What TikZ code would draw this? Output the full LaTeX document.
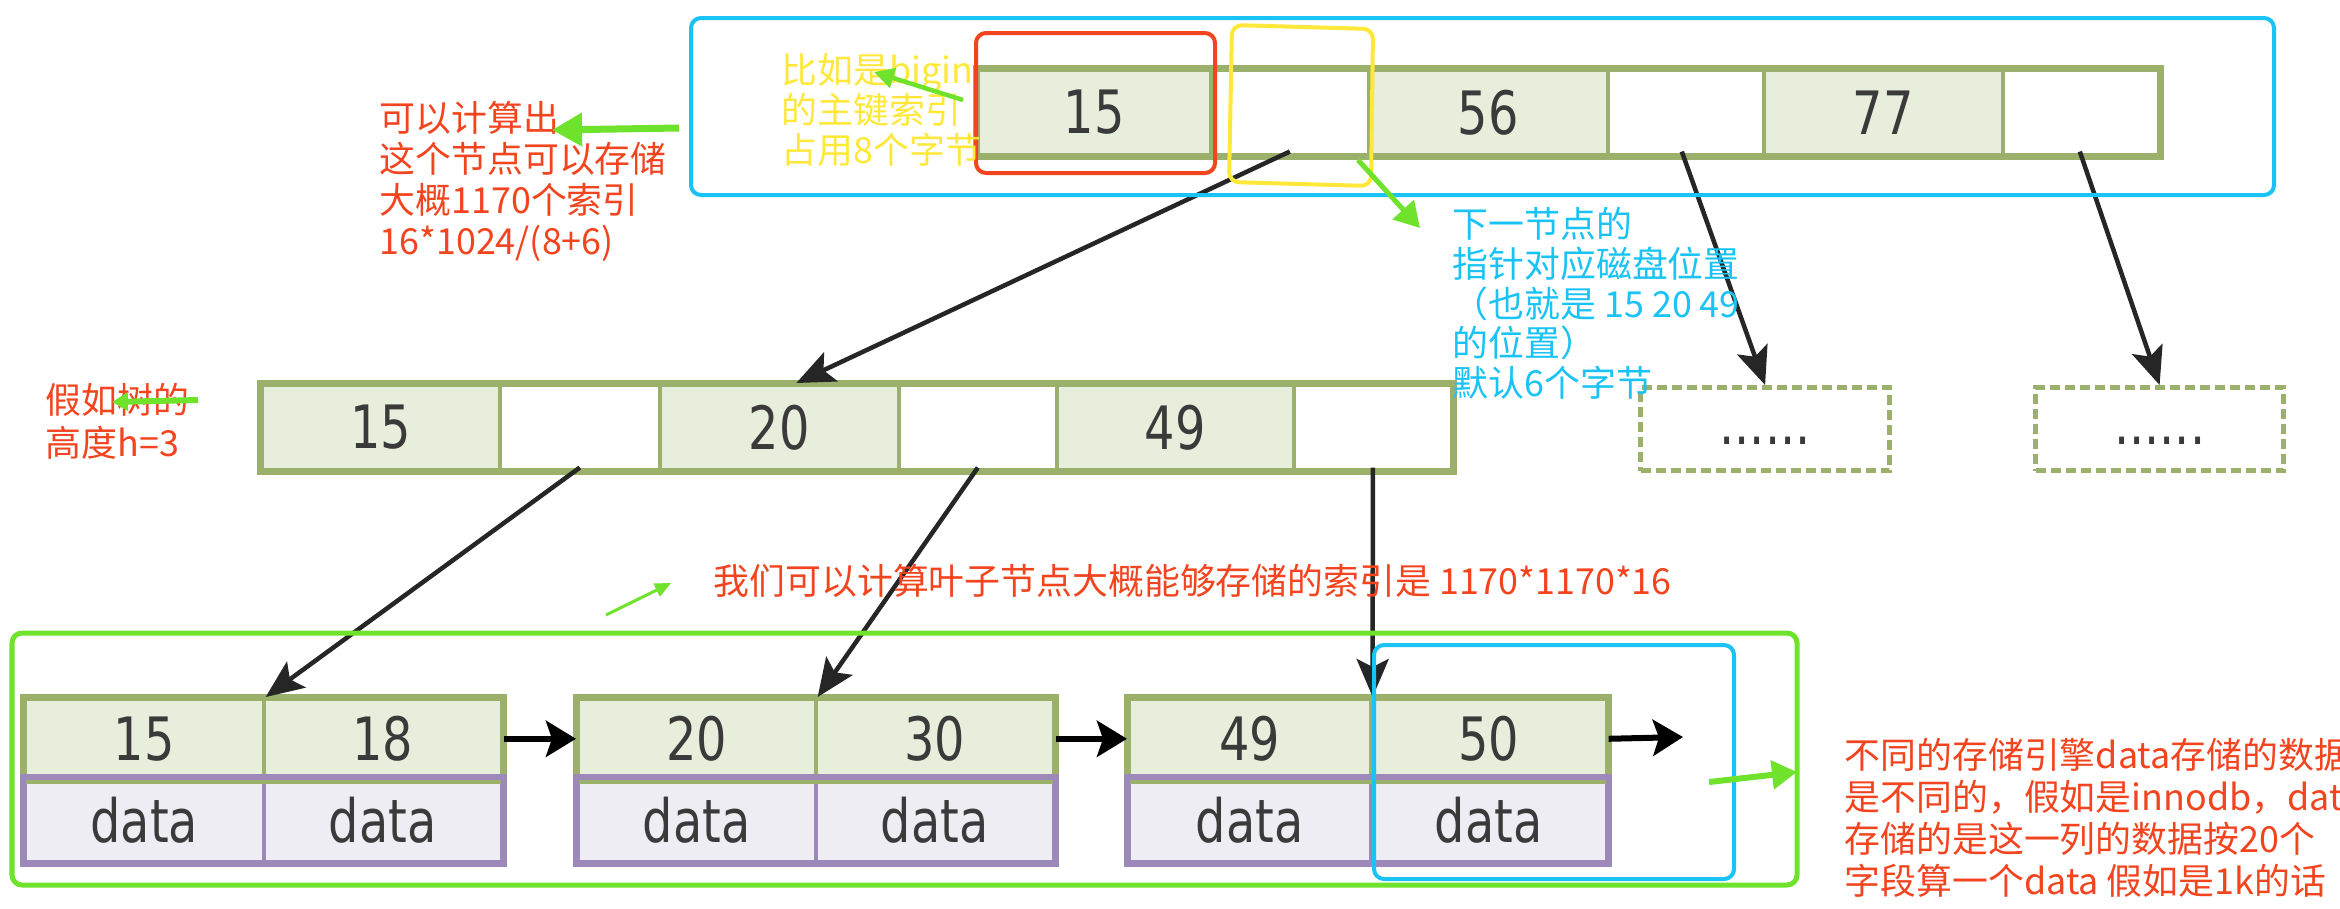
\documentclass[tikz,border=0pt]{standalone}
\usepackage{fontspec}
\usetikzlibrary{arrows.meta,calc}
\newfontfamily\cjk{Noto Sans CJK SC}
\newfontfamily\cellfont[FakeStretch=0.8]{DejaVu Sans}
\definecolor{keyfill}{HTML}{E7EEDB}
\definecolor{keyline}{HTML}{9BB06B}
\definecolor{datafill}{HTML}{EFEDF4}
\definecolor{dataline}{HTML}{9D89B9}
\definecolor{annred}{HTML}{F2441F}
\definecolor{annblue}{HTML}{19C3F5}
\definecolor{annyellow}{HTML}{FFE83A}
\definecolor{anngreen}{HTML}{6FE22C}
\definecolor{celltext}{HTML}{3A3A3A}
\tikzset{
  cell/.style={draw=keyline, line width=0.035cm, minimum height=0.85cm, inner sep=0pt,
    anchor=north west, font=\cellfont\fontsize{17pt}{20pt}\selectfont, text=celltext},
  keycell/.style={cell, fill=keyfill},
  ptrcell/.style={cell, fill=white},
  leafkey/.style={cell, fill=keyfill, minimum height=0.80cm},
  leafdata/.style={cell, draw=dataline, fill=datafill, minimum height=0.83cm},
  dotbox/.style={cell, fill=white, line width=0.05cm, dash pattern=on 0.1cm off 0.05cm,
    minimum height=0.83cm, text height=0.3cm, text depth=0pt},
  frameK/.style={draw=keyline, line width=0.07cm},
  frameD/.style={draw=dataline, line width=0.06cm},
  blackarrow/.style={draw=black!85, line width=0.045cm, -{Stealth[length=0.38cm,width=0.32cm,inset=0.08cm]}},
  linkarrow/.style={draw=black, line width=0.06cm, -{Stealth[length=0.3cm,width=0.36cm,inset=0.06cm]}},
  greenarrow/.style={draw=anngreen, -{Triangle[length=0.25cm,width=0.28cm]}},
  ann/.style={anchor=north west, inner sep=0pt, align=left},
  annbox/.style={rounded corners=0.1cm, line width=0.04cm},
}
\begin{document}
\begin{tikzpicture}[x=0.01cm, y=-0.01cm]
\useasboundingbox (0,0) rectangle (2340,908);
\clip (0,0) rectangle (2340,908);
\fill[white] (0,0) rectangle (2340,908);

% ---- root node
\node[keycell, minimum width=2.33cm] (t1) at (976,68) {15};
\node[ptrcell, minimum width=1.58cm] (t2) at (1209,68) {};
\node[keycell, minimum width=2.39cm] (t3) at (1367,68) {56};
\node[ptrcell, minimum width=1.56cm] (t4) at (1606,68) {};
\node[keycell, minimum width=2.39cm] (t5) at (1762,68) {77};
\node[ptrcell, minimum width=1.56cm] (t6) at (2001,68) {};
\draw[frameK] (t1.north west) rectangle (t6.south east);

% ---- middle node
\node[keycell, minimum width=2.38cm] (m1) at (260,383) {15};
\node[ptrcell, minimum width=1.60cm] (m2) at (498,383) {};
\node[keycell, minimum width=2.39cm] (m3) at (658,383) {20};
\node[ptrcell, minimum width=1.58cm] (m4) at (897,383) {};
\node[keycell, minimum width=2.37cm] (m5) at (1055,383) {49};
\node[ptrcell, minimum width=1.58cm] (m6) at (1292,383) {};
\draw[frameK] (m1.north west) rectangle (m6.south east);

% ---- dotted placeholder nodes
\node[dotbox, minimum width=2.49cm] (d1) at (1638,385) {......};
\node[dotbox, minimum width=2.48cm] (d2) at (2033,385) {......};

% ---- leaves
\node[leafkey, minimum width=2.39cm] (l1a) at (23,697) {15};
\node[leafkey, minimum width=2.38cm] (l1b) at (262,697) {18};
\node[leafdata, minimum width=2.39cm] (l1c) at (23,777) {data};
\node[leafdata, minimum width=2.38cm] (l1d) at (262,777) {data};
\draw[frameK, line width=0.06cm] (l1a.north west) rectangle (l1b.south east);
\draw[frameD] (l1c.north west) rectangle (l1d.south east);

\node[leafkey, minimum width=2.38cm] (l2a) at (576,697) {20};
\node[leafkey, minimum width=2.38cm] (l2b) at (814,697) {30};
\node[leafdata, minimum width=2.38cm] (l2c) at (576,777) {data};
\node[leafdata, minimum width=2.38cm] (l2d) at (814,777) {data};
\draw[frameK, line width=0.06cm] (l2a.north west) rectangle (l2b.south east);
\draw[frameD] (l2c.north west) rectangle (l2d.south east);

\node[leafkey, minimum width=2.42cm] (l3a) at (1127,697) {49};
\node[leafkey, minimum width=2.36cm] (l3b) at (1369,697) {50};
\node[leafdata, minimum width=2.42cm] (l3c) at (1127,777) {data};
\node[leafdata, minimum width=2.36cm] (l3d) at (1369,777) {data};
\draw[frameK, line width=0.06cm] (l3a.north west) rectangle (l3b.south east);
\draw[frameD] (l3c.north west) rectangle (l3d.south east);
\coordinate (lend) at (1683,737);

% ---- black connectors
\draw[blackarrow] ($(t2.south)+(0,-5)$) -- ($(m3.north)+(17,0)$);
\draw[blackarrow] ($(t4.south)+(-4,-5)$) -- (d1.north);
\draw[blackarrow] ($(t6.south)+(-1,-5)$) -- (d2.north);
\draw[blackarrow] ($(m2.south)+(0,-4)$) -- (l1a.north east);
\draw[blackarrow] ($(m4.south)+(0,-4)$) -- (l2a.north east);
\draw[blackarrow] ($(m6.south)+(0,-4)$) -- (l3a.north east);
\draw[linkarrow] (l1b.east) -- (l2a.west);
\draw[linkarrow] (l2b.east) -- (l3a.west);
\draw[linkarrow] (l3b.east) -- (lend);

% ---- annotation frames
\draw[annblue, annbox] (691,18) rectangle (2274,195);
\draw[annred, annbox] (976,33) rectangle (1215,173);
\draw[annyellow, annbox] (1232,25) -- (1373,29) -- (1371,186) -- (1229,182) -- cycle;
\draw[anngreen, annbox, line width=0.05cm] (12,633) rectangle (1797,885);
\draw[annblue, annbox] (1374,645) rectangle (1734,879);

% ---- annotation texts
\node[ann, text=annred, font=\cjk\fontsize{10.2pt}{11.7pt}\selectfont] (calc) at (379,100)
  {可以计算出\\这个节点可以存储\\大概1170个索引\\16*1024/(8+6)};
\node[ann, text=annyellow, font=\cjk\fontsize{10.2pt}{11.4pt}\selectfont] (bigint) at (781,53)
  {比如是bigin\\的主键索引\\占用8个字节};
\node[ann, text=annblue, font=\cjk\fontsize{10.2pt}{11.25pt}\selectfont] (ptrnote) at (1452,207)
  {下一节点的\\指针对应磁盘位置\\（也就是 15 20 49\\的位置）\\默认6个字节};
\node[ann, text=annred, font=\cjk\fontsize{10.2pt}{11.95pt}\selectfont] (height) at (45,383)
  {假如树的\\高度h=3};
\node[ann, text=annred, font=\cjk\fontsize{10.2pt}{11.7pt}\selectfont] (leafcount) at (713,563)
  {我们可以计算叶子节点大概能够存储的索引是 1170*1170*16};
\node[ann, text=annred, font=\cjk\fontsize{10.2pt}{11.95pt}\selectfont] (datanote) at (1844,737)
  {不同的存储引擎data存储的数据\\是不同的，假如是innodb，data\\存储的是这一列的数据按20个\\字段算一个data 假如是1k的话};

% ---- green pointer arrows
\coordinate (g1s) at (679,128); \coordinate (g1e) at (552,130);
\coordinate (g2s) at (963,100); \coordinate (g2e) at (874,72);
\coordinate (g3s) at (1358,160); \coordinate (g3e) at (1420,228);
\coordinate (g4s) at (198,400); \coordinate (g4e) at (112,402);
\coordinate (g5s) at (606,615); \coordinate (g5e) at (671,583);
\coordinate (g6s) at (1709,782); \coordinate (g6e) at (1797,772);
\draw[greenarrow, line width=0.07cm, -{Triangle[length=0.3cm,width=0.32cm]}] (g1s) -- (g1e);
\draw[greenarrow, line width=0.045cm, -{Triangle[length=0.2cm,width=0.2cm]}] (g2s) -- (g2e);
\draw[greenarrow, line width=0.05cm] (g3s) -- (g3e);
\draw[greenarrow, line width=0.06cm, -{Triangle[length=0.16cm,width=0.18cm]}] (g4s) -- (g4e);
\draw[greenarrow, line width=0.03cm, -{Triangle[length=0.16cm,width=0.14cm]}] (g5s) -- (g5e);
\draw[greenarrow, line width=0.06cm] (g6s) -- (g6e);
\end{tikzpicture}
\end{document}
